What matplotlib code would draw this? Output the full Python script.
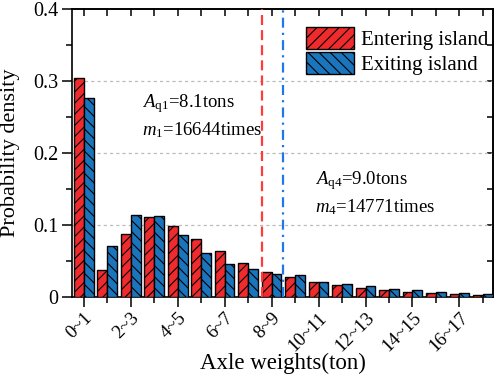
import matplotlib
matplotlib.use("Agg")
import matplotlib.pyplot as plt
import numpy as np

categories = ["0~1", "1~2", "2~3", "3~4", "4~5", "5~6", "6~7", "7~8", "8~9",
              "9~10", "10~11", "11~12", "12~13", "13~14", "14~15", "15~16",
              "16~17", "17~18"]
entering = [0.304, 0.037, 0.088, 0.111, 0.099, 0.081, 0.064, 0.047, 0.035,
            0.028, 0.021, 0.016, 0.0125, 0.0097, 0.0074, 0.0056, 0.0042, 0.0032]
exiting = [0.277, 0.071, 0.114, 0.112, 0.086, 0.061, 0.046, 0.0385, 0.032,
           0.0306, 0.021, 0.0176, 0.0148, 0.0116, 0.0097, 0.007, 0.006, 0.0046]
series_names = ["Entering island", "Exiting island"]
aq1_tons = 8.1
aq4_tons = 9.0
text1 = [r"$A_{\mathrm{q1}}$=8.1tons", r"$m_1$=16644times"]
text2 = [r"$A_{\mathrm{q4}}$=9.0tons", r"$m_4$=14771times"]

plt.rcParams["font.family"] = ["Liberation Serif", "DejaVu Serif"]
plt.rcParams["mathtext.fontset"] = "custom"
plt.rcParams["mathtext.rm"] = "Liberation Serif"
plt.rcParams["mathtext.it"] = "Liberation Serif:italic"
plt.rcParams["hatch.linewidth"] = 0.8

red = "#EF2B2D"
blue = "#1B75BC"

fig = plt.figure(figsize=(4.98, 3.77), dpi=100)
ax = fig.add_axes([0.1446, 0.2122, 0.8454, 0.7639])

x = np.arange(len(categories))
w = 0.42
ax.bar(x - w / 2, entering, w, color=red, edgecolor="black", linewidth=1.0,
       hatch="///", label=series_names[0], zorder=3)
ax.bar(x + w / 2, exiting, w, color=blue, edgecolor="black", linewidth=1.0,
       hatch="\\\\\\", label=series_names[1], zorder=3)

ax.axvline(aq1_tons - 0.5, color="#FF3B3B", lw=1.6, ls=(0, (4.5, 2.3)), zorder=4)
ax.axvline(aq4_tons - 0.5, color="#1E78E6", lw=1.6, ls=(0, (4.5, 2.3, 1, 2.3)), zorder=4)

ax.set_xlim(-0.5, 17.43)
ax.set_ylim(0, 0.4)

for yv in [0.1, 0.2, 0.3]:
    ax.axhline(yv, color="#BBBBBB", lw=0.9, ls=(0, (2.5, 2.5)), zorder=1)

ax.set_xticks(x[::2])
ax.set_xticklabels(categories[::2], rotation=45, ha="right",
                   rotation_mode="anchor", fontsize=13.5)
ax.set_xticks(x[1::2], minor=True)
ax.set_yticks([0, 0.1, 0.2, 0.3, 0.4])
ax.set_yticklabels(["0", "0.1", "0.2", "0.3", "0.4"], fontsize=14.5)
ax.set_yticks(np.arange(0.05, 0.4, 0.1), minor=True)
ax.tick_params(axis="both", which="major", direction="out", length=7, width=1.1)
ax.tick_params(axis="both", which="minor", direction="out", length=4, width=1.1)
ax.tick_params(axis="x", which="major", pad=2)
ax.tick_params(axis="y", which="major", pad=3)

top = ax.secondary_xaxis("top")
top.set_xticks(x)
top.tick_params(direction="in", length=5, width=1.1, labeltop=False)
top.set_xticklabels([])
right = ax.secondary_yaxis("right")
right.set_yticks(np.arange(0.05, 0.4, 0.05))
right.tick_params(direction="in", length=4, width=1.1, labelright=False)
right.set_yticklabels([])

for s in ax.spines.values():
    s.set_linewidth(1.2)
top.spines["top"].set_linewidth(1.2)
right.spines["right"].set_linewidth(1.2)

ax.set_xlabel("Axle weights(ton)", fontsize=16.5)
ax.set_ylabel("Probability density", fontsize=16)
ax.xaxis.set_label_coords(0.5, -0.195)
ax.yaxis.set_label_coords(-0.124, 0.5)

ax.text(0.166, 0.670, text1[0], transform=ax.transAxes, fontsize=13.5, va="center", ha="left")
ax.text(0.166, 0.580, text1[1], transform=ax.transAxes, fontsize=13.5, va="center", ha="left")
ax.text(0.577, 0.406, text2[0], transform=ax.transAxes, fontsize=13.5, va="center", ha="left")
ax.text(0.577, 0.3125, text2[1], transform=ax.transAxes, fontsize=13.5, va="center", ha="left")

ax.legend(loc="upper right", bbox_to_anchor=(1.0, 0.955), frameon=False, fontsize=15,
          handlelength=2.3, handleheight=1.25, handletextpad=0.3,
          labelspacing=0.1, borderaxespad=0.0, borderpad=0.24)

fig.savefig("out.png", dpi=100)
